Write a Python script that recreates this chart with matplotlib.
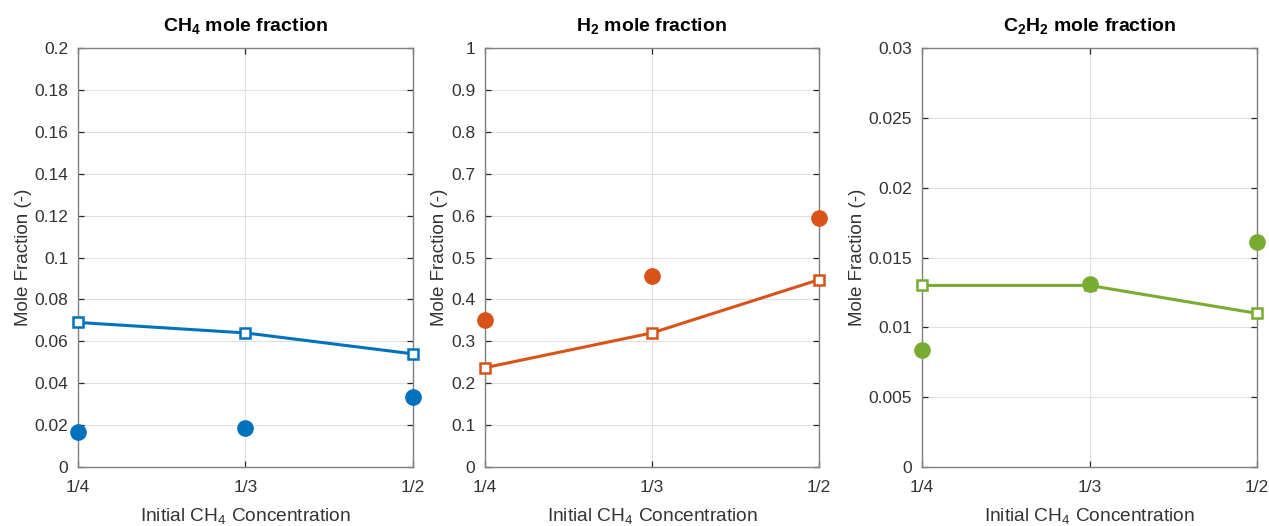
import matplotlib
matplotlib.use("Agg")
import matplotlib.pyplot as plt

plt.rcParams['font.family'] = ['Liberation Sans', 'DejaVu Sans']
plt.rcParams['mathtext.default'] = 'regular'

categories = ['1/4', '1/3', '1/2']

ch4_line = [0.069, 0.064, 0.054]
ch4_dots = [0.0167, 0.0185, 0.0334]
h2_line = [0.237, 0.320, 0.447]
h2_dots = [0.350, 0.457, 0.595]
c2h2_line = [0.0130, 0.0130, 0.0110]
c2h2_dots = [0.0084, 0.0131, 0.0161]

titles = ['CH$_4$ mole fraction', 'H$_2$ mole fraction', 'C$_2$H$_2$ mole fraction']
ylims = [(0, 0.2), (0, 1.0), (0, 0.03)]
yticks = [
    [0, 0.02, 0.04, 0.06, 0.08, 0.1, 0.12, 0.14, 0.16, 0.18, 0.2],
    [0, 0.1, 0.2, 0.3, 0.4, 0.5, 0.6, 0.7, 0.8, 0.9, 1.0],
    [0, 0.005, 0.01, 0.015, 0.02, 0.025, 0.03],
]
ytick_labels = [
    ['0', '0.02', '0.04', '0.06', '0.08', '0.1', '0.12', '0.14', '0.16', '0.18', '0.2'],
    ['0', '0.1', '0.2', '0.3', '0.4', '0.5', '0.6', '0.7', '0.8', '0.9', '1'],
    ['0', '0.005', '0.01', '0.015', '0.02', '0.025', '0.03'],
]
colors = ['#0072BD', '#D95319', '#77AC30']
lines = [ch4_line, h2_line, c2h2_line]
dots = [ch4_dots, h2_dots, c2h2_dots]

fig = plt.figure(figsize=(12.69, 5.26), dpi=100)
lefts = [78 / 1269, 485 / 1269, 922 / 1269]
widths = [335 / 1269, 334 / 1269, 335 / 1269]
bottom = 1 - 467 / 526
height = (467 - 48) / 526

x = list(range(len(categories)))
axcol = '#808080'
txtcol = '#333333'
for i in range(3):
    ax = fig.add_axes([lefts[i], bottom, widths[i], height])
    ax.plot(x, lines[i], '-', color=colors[i], lw=2.2, marker='s', ms=7,
            mfc='white', mec=colors[i], mew=1.8, clip_on=False, zorder=3)
    ax.plot(x, dots[i], 'o', color=colors[i], ms=11, ls='none', clip_on=False, zorder=4)
    ax.set_xlim(0, 2)
    ax.set_ylim(*ylims[i])
    ax.set_xticks(x)
    ax.set_xticklabels(categories)
    ax.set_yticks(yticks[i])
    ax.set_yticklabels(ytick_labels[i])
    ax.grid(True, color='#e0e0e0', lw=0.8)
    ax.set_axisbelow(True)
    ax.tick_params(direction='in', top=True, right=True, length=4, width=0.9,
                   colors='#262626', labelcolor=txtcol, labelsize=12.5)
    ax.tick_params(axis='x', pad=9)
    ax.tick_params(axis='y', pad=7)
    for s in ax.spines.values():
        s.set_color(axcol)
        s.set_linewidth(1.0)
    ax.set_title(titles[i], fontsize=14, fontweight='bold', pad=12, color='black')
    ax.set_ylabel('Mole Fraction (-)', fontsize=13.5, color=txtcol, labelpad=2)
    ax.set_xlabel('Initial CH$_4$ Concentration', fontsize=13.8, color=txtcol, labelpad=8)

fig.savefig('out.png', dpi=100, facecolor='white')
